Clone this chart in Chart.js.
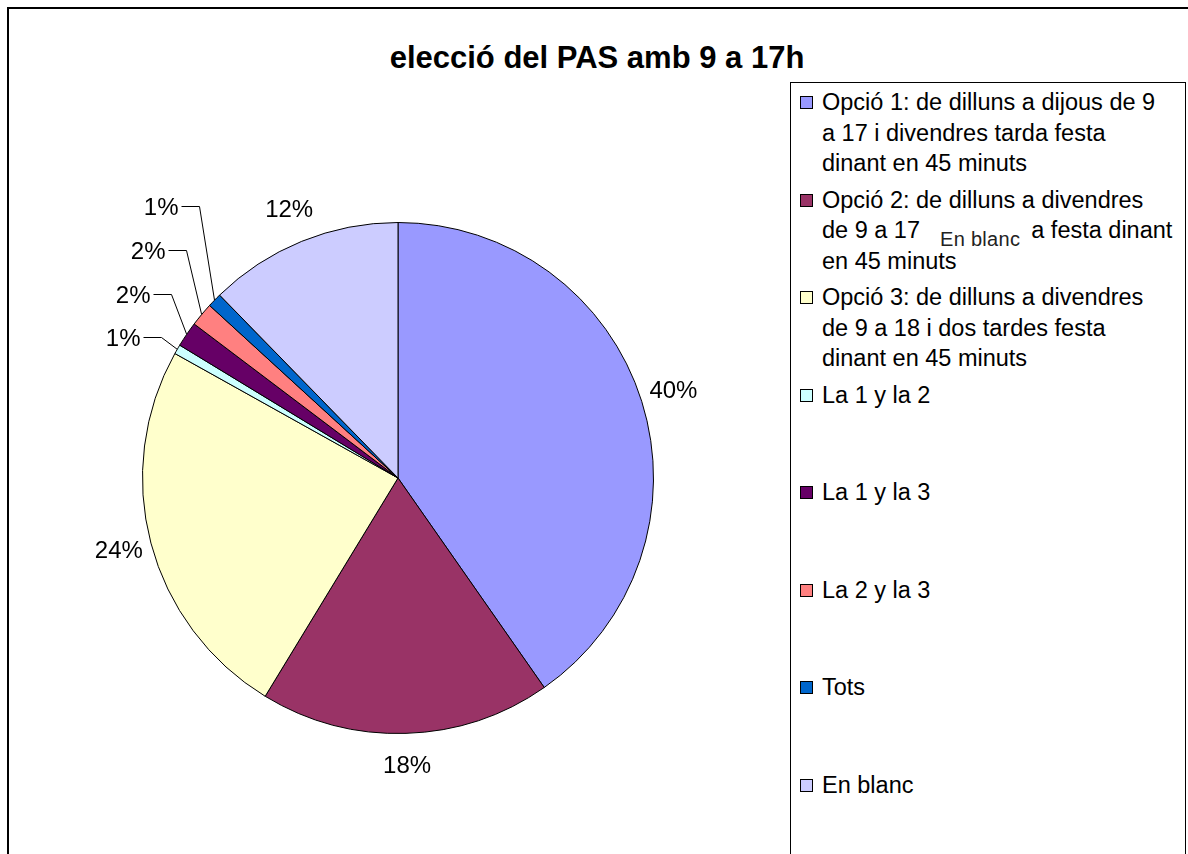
<!DOCTYPE html>
<html>
<head>
<meta charset="utf-8">
<script src="https://cdn.jsdelivr.net/npm/chart.js@4/dist/chart.umd.min.js"></script>
<style>
  html, body { margin: 0; background: #fff; overflow: hidden; width: 1188px; height: 854px; }
  body { font-family: "Liberation Sans", Arial, sans-serif; color: #000; }
  #frame { position: absolute; left: 7px; top: 7px; width: 1200px; height: 900px; border: 2px solid #000; }
  #title { position: absolute; left: 0; top: 40px; width: 1194px; text-align: center;
           font-weight: bold; font-size: 31px; line-height: 36px; }
  #pieBox { position: absolute; left: 60px; top: 140px; width: 676px; height: 676px; }
  #legend { position: absolute; left: 790px; top: 82px; width: 396px; height: 820px;
            border: 1px solid #000; padding-top: 4px; box-sizing: border-box; background: #fff; }
  .item { position: relative; height: 97.5px; padding-left: 31px; font-size: 23.5px; line-height: 30.5px; white-space: pre; }
  .sw { position: absolute; left: 9px; top: 9px; width: 11px; height: 11px; border: 1px solid #000; }
  .tip { display: inline-block; position: relative; top: 8px; font-size: 20px; letter-spacing: 0.3px;
         color: #222; background: #fff; margin-left: 20px; margin-right: 11px; line-height: 22px; }
</style>
</head>
<body>
<div id="frame"></div>
<div id="title">elecció del PAS amb 9 a 17h</div>
<div id="pieBox"><canvas id="pie"></canvas></div>
<div id="legend"></div>

<script>
// categories (legend lines as shown) and shares in %
const categories = [
  'Opció 1', 'Opció 2', 'Opció 3', 'La 1 y la 2', 'La 1 y la 3', 'La 2 y la 3', 'Tots', 'En blanc'
];
const legendLines = [
  ['Opció 1: de dilluns a dijous de 9', 'a 17 i divendres tarda festa', 'dinant en 45 minuts'],
  ['Opció 2: de dilluns a divendres', 'de 9 a 17|TIP|a festa dinant', 'en 45 minuts'],
  ['Opció 3: de dilluns a divendres', 'de 9 a 18 i dos tardes festa', 'dinant en 45 minuts'],
  ['La 1 y la 2'],
  ['La 1 y la 3'],
  ['La 2 y la 3'],
  ['Tots'],
  ['En blanc']
];
const shares = [40.3, 18.4, 24.4, 0.6, 1.6, 1.5, 0.9, 12.3];
const colors = ['#9999FF', '#993366', '#FFFFCC', '#CCFFFF', '#660066', '#FF8080', '#0066CC', '#CCCCFF'];
const tipText = 'En blanc';

// legend (html)
const legendEl = document.getElementById('legend');
legendLines.forEach((lines, i) => {
  const item = document.createElement('div');
  item.className = 'item';
  const sw = document.createElement('div');
  sw.className = 'sw';
  sw.style.background = colors[i];
  item.appendChild(sw);
  lines.forEach(line => {
    const row = document.createElement('div');
    if (line.includes('|TIP|')) {
      const parts = line.split('|TIP|');
      row.appendChild(document.createTextNode(parts[0]));
      const t = document.createElement('span');
      t.className = 'tip';
      t.textContent = tipText;
      row.appendChild(t);
      row.appendChild(document.createTextNode(parts[1]));
    } else {
      row.textContent = line;
    }
    item.appendChild(row);
  });
  legendEl.appendChild(item);
});

// percent labels, small slices get leader lines
const pieLabels = {
  id: 'pieLabels',
  afterDatasetsDraw(chart) {
    const ctx = chart.ctx;
    const meta = chart.getDatasetMeta(0);
    const data = chart.data.datasets[0].data;
    const total = data.reduce((a, b) => a + b, 0);
    ctx.save();
    ctx.font = '24px "Liberation Sans", Arial, sans-serif';
    ctx.fillStyle = '#000';
    ctx.strokeStyle = '#000';
    ctx.lineWidth = 1;
    let k = 0;
    meta.data.forEach((arc, i) => {
      const p = arc.getProps(['x', 'y', 'startAngle', 'endAngle', 'outerRadius']);
      const mid = (p.startAngle + p.endAngle) / 2;
      const share = data[i] / total * 100;
      const txt = Math.round(share) + '%';
      if (share >= 3) {
        const d = p.outerRadius * 1.13;
        ctx.textAlign = 'center';
        ctx.textBaseline = 'middle';
        ctx.fillText(txt, p.x + Math.cos(mid) * d, p.y + Math.sin(mid) * d);
      } else {
        const ax = p.x + Math.cos(mid) * p.outerRadius;
        const ay = p.y + Math.sin(mid) * p.outerRadius;
        const ly = Math.round(p.y - p.outerRadius * (0.55 + 0.172 * k)) + 0.5;
        const ex = Math.round(ax - 16) + 0.5;
        const sx = ex - 18;
        ctx.beginPath();
        ctx.moveTo(ax, ay);
        ctx.lineTo(ex, ly);
        ctx.lineTo(sx, ly);
        ctx.stroke();
        ctx.textAlign = 'right';
        ctx.textBaseline = 'middle';
        ctx.fillText(txt, sx - 3, ly + 2);
        k++;
      }
    });
    ctx.restore();
  }
};

new Chart(document.getElementById('pie'), {
  type: 'pie',
  data: {
    labels: categories,
    datasets: [{
      data: shares,
      backgroundColor: colors,
      borderColor: '#000',
      borderWidth: 1
    }]
  },
  options: {
    responsive: true,
    maintainAspectRatio: false,
    animation: false,
    layout: { padding: 82 },
    plugins: {
      legend: { display: false },
      tooltip: { enabled: false }
    }
  },
  plugins: [pieLabels]
});
</script>
</body>
</html>
